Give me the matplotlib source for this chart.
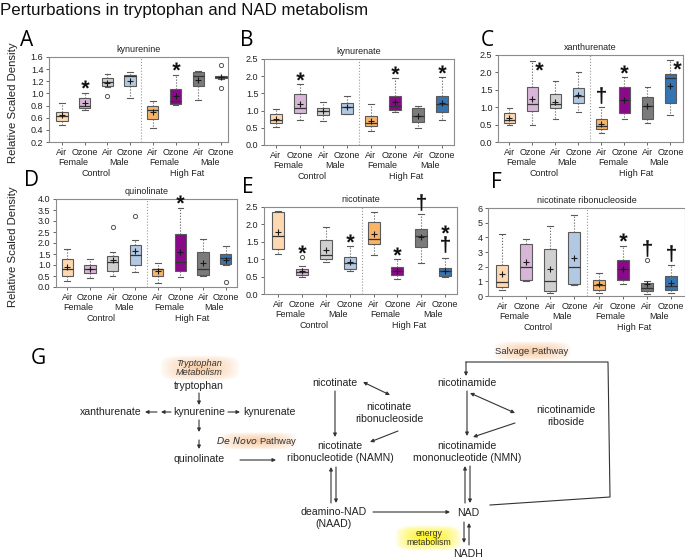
import numpy as np
import matplotlib
matplotlib.use("Agg")
import matplotlib.pyplot as plt
from matplotlib.transforms import ScaledTranslation
from matplotlib.colors import to_rgb
from matplotlib.textpath import TextPath
from matplotlib.font_manager import FontProperties
from matplotlib.path import Path

plt.rcParams["font.family"] = ["Liberation Sans", "DejaVu Sans"]

# ------------------------------------------------------------
# data: per group (whisker low, q1, median, q3, whisker high, mean)
# ------------------------------------------------------------
GROUPS = ["Air", "Ozone", "Air", "Ozone", "Air", "Ozone", "Air", "Ozone"]
SEX = ["Female", "Male", "Female", "Male"]
DIET = ["Control", "High Fat"]

KYNURENINE = [
    (0.48, 0.54, 0.63, 0.69, 0.85, 0.64),
    (0.72, 0.76, 0.80, 0.93, 1.01, 0.85),
    (1.11, 1.13, 1.19, 1.25, 1.32, 1.18),
    (0.93, 1.13, 1.28, 1.30, 1.35, 1.21),
    (0.43, 0.575, 0.73, 0.80, 0.875, 0.69),
    (0.81, 0.82, 0.875, 1.08, 1.31, 0.96),
    (0.89, 1.13, 1.29, 1.345, 1.37, 1.22),
    (1.24, 1.26, 1.27, 1.28, 1.29, 1.27),
]
KYNURENINE_FLIERS = [[], [], [0.96], [], [], [], [], [1.47, 1.09]]
KYNURENINE_MARKS = ["", "*", "", "", "", "*", "", ""]

KYNURENATE = [
    (0.52, 0.65, 0.74, 0.89, 1.04, 0.76),
    (0.73, 0.94, 1.09, 1.48, 1.76, 1.19),
    (0.70, 0.87, 1.00, 1.09, 1.26, 1.00),
    (0.89, 0.89, 1.11, 1.23, 1.43, 1.10),
    (0.42, 0.56, 0.63, 0.85, 1.18, 0.71),
    (0.95, 1.02, 1.13, 1.43, 1.94, 1.26),
    (0.48, 0.68, 0.84, 1.07, 1.13, 0.85),
    (0.73, 0.97, 1.19, 1.41, 1.97, 1.23),
]
KYNURENATE_FLIERS = [[]] * 8
KYNURENATE_MARKS = ["", "*", "", "", "", "*", "", "*"]

XANTHURENATE = [
    (0.48, 0.55, 0.62, 0.82, 0.99, 0.69),
    (0.48, 0.88, 1.08, 1.57, 2.33, 1.23),
    (0.67, 0.98, 1.08, 1.39, 1.76, 1.15),
    (0.87, 1.13, 1.33, 1.56, 2.02, 1.36),
    (0.27, 0.36, 0.45, 0.65, 1.01, 0.53),
    (0.65, 0.84, 1.20, 1.57, 1.86, 1.20),
    (0.56, 0.67, 1.03, 1.30, 1.57, 1.03),
    (0.77, 1.13, 1.83, 1.94, 2.36, 1.62),
]
XANTHURENATE_FLIERS = [[]] * 8
XANTHURENATE_MARKS = ["", "*>", "", "", "†", "*", "", "*>"]

QUINOLINATE = [
    (0.26, 0.52, 0.84, 1.29, 1.73, 0.91),
    (0.41, 0.65, 0.84, 0.99, 1.26, 0.84),
    (0.49, 0.73, 1.14, 1.40, 1.57, 1.22),
    (0.68, 1.02, 1.44, 1.92, 2.13, 1.63),
    (0.20, 0.50, 0.80, 0.84, 1.11, 0.73),
    (0.44, 0.75, 1.13, 2.39, 3.60, 1.60),
    (0.49, 0.53, 0.81, 1.60, 2.17, 1.10),
    (1.00, 1.03, 1.32, 1.52, 1.86, 1.25),
]
QUINOLINATE_FLIERS = [[], [], [2.74], [3.24], [], [], [], [0.23]]
QUINOLINATE_MARKS = ["", "", "", "", "", "*", "", ""]

NICOTINATE = [
    (1.15, 1.29, 1.68, 2.35, 2.38, 1.78),
    (0.48, 0.54, 0.62, 0.72, 0.81, 0.67),
    (0.91, 1.00, 1.12, 1.54, 1.92, 1.27),
    (0.66, 0.72, 0.88, 1.05, 1.37, 0.91),
    (1.11, 1.44, 1.59, 2.07, 2.35, 1.72),
    (0.42, 0.55, 0.66, 0.77, 1.00, 0.67),
    (0.88, 1.35, 1.67, 1.87, 2.30, 1.63),
    (0.50, 0.53, 0.66, 0.76, 1.03, 0.66),
]
NICOTINATE_FLIERS = [[], [1.06], [], [], [], [], [], []]
NICOTINATE_MARKS = ["", "*", "", "*", "", "*", "†", "*†"]

NIC_RIBONUCLEOSIDE = [
    (0.39, 0.62, 0.96, 2.10, 4.23, 1.53),
    (1.00, 1.12, 1.95, 3.55, 3.89, 2.29),
    (0.23, 0.34, 1.03, 3.23, 4.74, 1.81),
    (0.73, 0.85, 1.95, 4.39, 5.49, 2.56),
    (0.21, 0.39, 0.78, 1.12, 1.60, 0.80),
    (0.82, 1.12, 1.83, 2.45, 3.43, 1.83),
    (0.11, 0.34, 0.57, 0.92, 1.00, 0.80),
    (0.23, 0.43, 0.69, 1.35, 2.10, 0.89),
]
NIC_RIBONUCLEOSIDE_FLIERS = [[], [], [], [], [], [], [2.45], []]
NIC_RIBONUCLEOSIDE_MARKS = ["", "", "", "", "", "*", "†", "†"]

BOX_COLORS = ["#fdd8b0", "#d8b6d8", "#d0d0d0", "#b2c8e3",
              "#f8b468", "#880a88", "#7b7b7b", "#3674b2"]

W, H = 685, 559
fig = plt.figure(figsize=(W / 100, H / 100), dpi=100)


def glyph_marker(ch, **kw):
    # text glyph as a marker path, centred on its own bounding box
    tp = TextPath((0, 0), ch, prop=FontProperties(family="Liberation Sans", **kw))
    v = tp.vertices.copy()
    codes = tp.codes
    real = codes != Path.CLOSEPOLY
    lo, hi = v[real].min(axis=0), v[real].max(axis=0)
    c = (lo + hi) / 2
    v[~real] = c
    return Path(v - c, codes)


STAR = glyph_marker("*", weight="bold")
DAGGER = glyph_marker("†", weight="bold")


def px_axes(left, top, right, bottom):
    return fig.add_axes([left / W, 1 - bottom / H, (right - left) / W, (bottom - top) / H])


def put_mark(ax, x, y, marker, size, dx, dy):
    tr = ax.transData + ScaledTranslation(dx / 72, dy / 72, fig.dpi_scale_trans)
    ax.plot(x, y, marker=marker, ms=size, color="#111111", markeredgewidth=0,
            transform=tr, clip_on=False, zorder=5)


def draw_panel(rect, xlim, title, rows, fliers, marks, ylim, yticks, yfmt):
    ax = px_axes(*rect)
    pos = np.arange(1, len(rows) + 1)
    stats = [dict(whislo=r[0], q1=r[1], med=r[2], q3=r[3], whishi=r[4], mean=r[5],
                  fliers=f) for r, f in zip(rows, fliers)]
    bp = ax.bxp(stats, positions=pos, widths=0.5, patch_artist=True, showmeans=True,
                boxprops=dict(edgecolor="#5a5a5a", linewidth=0.8),
                whiskerprops=dict(color="#5a5a5a", linestyle=":", linewidth=0.8),
                capprops=dict(color="#5a5a5a", linewidth=0.8),
                medianprops=dict(color="#333333", linewidth=0.9),
                meanprops=dict(marker="+", markeredgecolor="#1a1a1a", markersize=4,
                               markeredgewidth=0.8),
                flierprops=dict(marker="o", markerfacecolor="none", markeredgecolor="#555555",
                                markersize=3, markeredgewidth=0.7))
    for patch, c in zip(bp["boxes"], BOX_COLORS):
        patch.set_facecolor(c)
    ax.axvline(4.5, color="#9a9a9a", linestyle=":", linewidth=0.8)

    # significance marks sit on the highest point of each group
    for p, r, f, m in zip(pos, rows, fliers, marks):
        if not m:
            continue
        top = max([r[4]] + list(f))
        if m.endswith(">"):
            put_mark(ax, p, top, STAR, 6, 5, -4)
            continue
        off = 6
        if "†" in m:
            doff = 10 if "*" in m else 8.5
            put_mark(ax, p, top, DAGGER, 12, 0, doff)
            off = doff + 11
        if "*" in m:
            put_mark(ax, p, top, STAR, 6, 0, off)

    ax.set_xlim(*xlim)
    ax.set_ylim(*ylim)
    ax.set_yticks(yticks)
    ax.set_yticklabels([yfmt.format(v) for v in yticks])
    ax.set_xticks(pos)
    ax.set_xticklabels(GROUPS)
    ax.tick_params(labelsize=6.5, length=2.5, width=0.7, color="#666666", pad=1.5,
                   labelcolor="#222222")
    for sp in ax.spines.values():
        sp.set_color("#8c8c8c")
        sp.set_linewidth(0.8)
    ax.set_title(title, fontsize=6.5, pad=3.5, color="#222222")
    for i, s in enumerate(SEX):
        ax.annotate(s, xy=(1.5 + 2 * i, 0), xycoords=("data", "axes fraction"),
                    xytext=(0, -15), textcoords="offset points", ha="center", va="center",
                    fontsize=6.5, color="#222222", annotation_clip=False)
    for i, d in enumerate(DIET):
        ax.annotate(d, xy=(2.5 + 4 * i, 0), xycoords=("data", "axes fraction"),
                    xytext=(0, -22.5), textcoords="offset points", ha="center", va="center",
                    fontsize=6.5, color="#222222", annotation_clip=False)
    return ax


draw_panel((49, 57, 228, 142), (0.43, 8.31), "kynurenine", KYNURENINE, KYNURENINE_FLIERS,
           KYNURENINE_MARKS, (0.2, 1.6), np.arange(0.2, 1.61, 0.2), "{:.1f}")
draw_panel((264, 59, 454, 145), (0.5, 8.5), "kynurenate", KYNURENATE, KYNURENATE_FLIERS,
           KYNURENATE_MARKS, (0, 2.5), np.arange(0, 2.51, 0.5), "{:.1f}")
draw_panel((498, 55, 683, 142), (0.5, 8.55), "xanthurenate", XANTHURENATE,
           XANTHURENATE_FLIERS, XANTHURENATE_MARKS, (0, 2.5), np.arange(0, 2.51, 0.5),
           "{:.1f}")
draw_panel((56, 199, 237, 287), (0.5, 8.5), "quinolinate", QUINOLINATE, QUINOLINATE_FLIERS,
           QUINOLINATE_MARKS, (0, 4), np.arange(0, 4.01, 0.5), "{:.1f}")
draw_panel((264, 207, 457, 294), (0.4, 8.5), "nicotinate", NICOTINATE, NICOTINATE_FLIERS,
           NICOTINATE_MARKS, (0, 2.5), np.arange(0, 2.51, 0.5), "{:.1f}")
draw_panel((488, 208, 685, 296), (0.4, 8.6), "nicotinate ribonucleoside", NIC_RIBONUCLEOSIDE,
           NIC_RIBONUCLEOSIDE_FLIERS, NIC_RIBONUCLEOSIDE_MARKS, (0, 6), np.arange(0, 6.1, 1),
           "{:.0f}")

fig.text(0.5 / W, 1 - 11 / H, "Perturbations in tryptophan and NAD metabolism",
         fontsize=12.2, va="center", ha="left", color="#111111")
for lab, x, y in [("A", 27, 40), ("B", 247, 40), ("C", 487, 40),
                  ("D", 32, 180), ("E", 248, 187), ("F", 496, 182)]:
    fig.text(x / W, 1 - y / H, lab, fontsize=15, family="Open Sans", ha="center", va="center")
for y in (103, 247):
    fig.text(13 / W, 1 - y / H, "Relative Scaled Density", fontsize=8.2, rotation=90,
             ha="center", va="center", color="#222222")

# ------------------------------------------------------------
# G: pathway diagram, drawn in pixel coordinates of the figure
# ------------------------------------------------------------
dg = fig.add_axes([0, 0, 1, (H - 330) / H])
dg.set_axis_off()


def glow(x0, x1, y0, y1, color, amax):
    u = np.linspace(-1, 1, 120)
    v = np.linspace(-1, 1, 40)
    uu, vv = np.meshgrid(u, v)
    d = (np.abs(uu) ** 4 + np.abs(vv) ** 4) ** 0.25
    img = np.zeros((40, 120, 4))
    img[..., :3] = to_rgb(color)
    img[..., 3] = np.clip(1 - d, 0, 1) ** 0.7 * amax
    dg.imshow(img, extent=(x0, x1, y1, y0), aspect="auto", interpolation="bilinear", zorder=0)


glow(160, 240, 355, 381, "#f7c08e", 0.8)
glow(218, 298, 432, 450, "#f7c08e", 0.8)
glow(493, 572, 341, 361, "#f7c08e", 0.8)
glow(395, 462, 525, 551, "#fff200", 0.95)

TXT = dict(fontsize=7.6, ha="center", va="center", color="#222222", linespacing=1.25)
nodes = [
    ("tryptophan", 199, 386), ("kynurenine", 199, 412), ("xanthurenate", 111, 412),
    ("kynurenate", 269, 412), ("quinolinate", 199, 459), ("nicotinate", 335, 383),
    ("nicotinate\nribonucleoside", 389, 413), ("nicotinate\nribonucleotide (NAMN)", 340, 452),
    ("deamino-NAD\n(NAAD)", 334, 518), ("NAD", 468, 513), ("NADH", 468, 554),
    ("nicotinamide", 467, 383), ("nicotinamide\nriboside", 566, 416),
    ("nicotinamide\nmononucleotide (NMN)", 467, 452),
]
for label, x, y in nodes:
    dg.text(x, y, label, **TXT)

dg.text(199, 368, "Tryptophan\nMetabolism", fontsize=6.6, style="italic", ha="center",
        va="center", color="#333333", linespacing=1.1)
dg.text(257, 441, r"$\it{De\ Novo}$ Pathway", fontsize=6.8, ha="center", va="center",
        color="#333333")
dg.text(532, 351, "Salvage Pathway", fontsize=6.8, ha="center", va="center", color="#333333")
dg.text(429, 538, "energy\nmetabolism", fontsize=6.3, ha="center", va="center",
        color="#333333", linespacing=1.1)
dg.text(38, 359, "G", fontsize=15, family="Open Sans", ha="center", va="center")

ARW = dict(arrowstyle="-|>", color="#333333", lw=0.8, mutation_scale=5, shrinkA=0, shrinkB=0)
DARW = dict(ARW, arrowstyle="<|-|>")
arrows = [
    ((199, 393), (199, 405)), ((157, 412), (145, 412)), ((171, 412), (161, 412)),
    ((228, 412), (240, 412)), ((199, 420), (199, 432)), ((199, 440), (199, 449)),
    ((240, 460), (276, 460)), ((335, 391), (335, 437)), ((398, 431), (370, 442)),
    ((331, 503), (331, 467)), ((336, 467), (336, 503)), ((373, 512), (450, 512)),
    ((467, 391), (467, 436)), ((515, 423), (473, 437)), ((465, 503), (465, 466)),
    ((470, 466), (470, 503)), ((464, 522), (464, 543)), ((469, 545), (469, 523)),
    ((466, 362), (466, 376)),
]
for tail, head in arrows:
    dg.annotate("", xy=head, xytext=tail, arrowprops=ARW)
for a, b in [((363, 382), (390, 395)), ((470, 393), (515, 413))]:
    dg.annotate("", xy=b, xytext=a, arrowprops=DARW)
dg.plot([490, 610, 608, 466], [505, 497, 362, 362], color="#333333", lw=0.8)

dg.set_xlim(0, W)
dg.set_ylim(H, 330)

fig.savefig("out.png", dpi=100)
